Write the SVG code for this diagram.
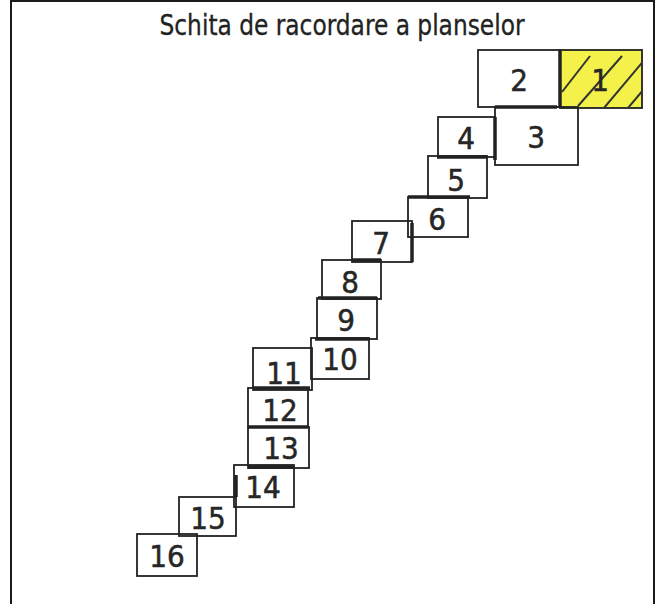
<svg xmlns="http://www.w3.org/2000/svg" width="657" height="604" viewBox="0 0 657 604">
<style>
.b{fill:none;stroke:#222;stroke-width:1.8}
.t{font-family:"DejaVu Sans Condensed","DejaVu Sans",sans-serif;font-size:31px;fill:#262626;stroke:#262626;stroke-width:0.5;text-anchor:middle}
.h{stroke:#333;stroke-width:2}
</style>
<defs>
<clipPath id="c1"><rect x="560" y="50" width="82" height="58"/></clipPath>
</defs>
<rect width="657" height="604" fill="#fff"/>
<g id="frame"><path d="M11 604V1H654V604" fill="none" stroke="#1a1a1a" stroke-width="2"/></g>
<text x="342" y="35" font-family="DejaVu Sans Condensed,DejaVu Sans,sans-serif" font-size="29" fill="#222" stroke="#222" stroke-width="0.3" text-anchor="middle" textLength="365" lengthAdjust="spacingAndGlyphs">Schita de racordare a planselor</text>
<g id="n1"><rect x="560" y="50" width="82" height="58" fill="#f4f24a" stroke="#222" stroke-width="1.8"/>
<g clip-path="url(#c1)" class="h"><line x1="562" y1="92" x2="590" y2="56"/><line x1="578" y1="106" x2="622" y2="56"/><line x1="604" y1="108" x2="646" y2="58"/><line x1="628" y1="108" x2="660" y2="70"/></g>
<text class="t" x="600" y="91">1</text></g>
<g id="n2"><rect class="b" x="478" y="50" width="82" height="57"/><text class="t" x="519" y="91">2</text></g>
<g id="n3"><rect class="b" x="495" y="107" width="83" height="58"/><text class="t" x="536" y="148">3</text></g>
<g id="n4"><rect class="b" x="438" y="117" width="57" height="40"/><text class="t" x="466" y="149">4</text></g>
<g id="n5"><rect class="b" x="428" y="156" width="59" height="42"/><text class="t" x="456" y="191">5</text></g>
<g id="n6"><rect class="b" x="408" y="197" width="60" height="40"/><text class="t" x="437" y="230">6</text></g>
<g id="n7"><rect class="b" x="352" y="221" width="60" height="41"/><text class="t" x="381" y="254">7</text></g>
<g id="n8"><rect class="b" x="322" y="260" width="59" height="39"/><text class="t" x="350" y="293">8</text></g>
<g id="n9"><rect class="b" x="317" y="298" width="60" height="41"/><text class="t" x="346" y="331">9</text></g>
<g id="n10"><rect class="b" x="311" y="338" width="58" height="41"/><text class="t" x="340" y="370">10</text></g>
<g id="n11"><rect class="b" x="253" y="348" width="59" height="42"/><text class="t" x="284" y="384">11</text></g>
<g id="n12"><rect class="b" x="248" y="388" width="60" height="39"/><text class="t" x="280" y="421">12</text></g>
<g id="n13"><rect class="b" x="248" y="427" width="61" height="41"/><text class="t" x="281" y="459">13</text></g>
<g id="n14"><rect class="b" x="234" y="465" width="60" height="42"/><text class="t" x="263" y="498">14</text></g>
<g id="n15"><rect class="b" x="179" y="497" width="57" height="39"/><text class="t" x="208" y="529">15</text></g>
<g id="n16"><rect class="b" x="137" y="534" width="60" height="42"/><text class="t" x="167" y="567">16</text></g>
<g id="edges" stroke="#222" stroke-width="3.5" fill="none">
<path d="M560 50V108"/><path d="M495 117V160"/><path d="M495 107H557"/><path d="M437 157H487"/><path d="M470 197H408"/><path d="M412 223V262"/><path d="M381 260H352"/><path d="M377 298H318"/><path d="M369 339H315"/><path d="M310 388H253"/><path d="M308 427H248"/><path d="M294 467H248"/><path d="M236 475V497"/>
</g>
</svg>
